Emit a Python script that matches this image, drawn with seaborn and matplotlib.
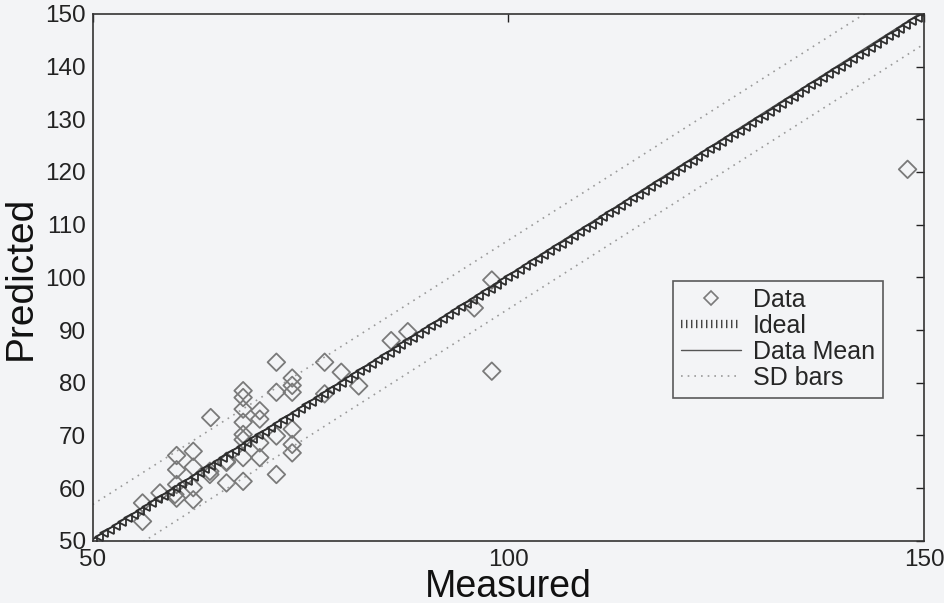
import numpy as np
import pandas as pd
import matplotlib
matplotlib.use("Agg")
import matplotlib.pyplot as plt
from matplotlib.lines import Line2D
import seaborn as sns

# measured vs predicted values
measured = [56.0, 56.0, 58.1, 59.9, 60.1, 60.1, 60.1, 60.1, 62.1, 62.1, 62.1,
            62.1, 64.1, 64.2, 64.1, 66.1, 66.1, 66.1, 68.1, 68.1, 68.1, 68.1,
            68.1, 68.1, 68.1, 68.1, 70.1, 70.1, 70.1, 70.1, 72.1, 72.1, 72.1,
            72.1, 74.0, 74.0, 74.0, 74.0, 74.0, 74.0, 77.9, 77.9, 79.9, 82.0,
            85.9, 87.9, 95.9, 98.0, 98.0, 148.0]
predicted = [57.2, 53.7, 59.1, 58.8, 66.2, 63.5, 60.7, 58.1, 67.0, 60.1, 57.8,
             64.0, 63.2, 73.4, 62.6, 65.1, 64.9, 61.0, 78.5, 77.2, 75.0, 72.5,
             70.2, 69.2, 65.8, 61.3, 74.7, 73.1, 68.6, 65.8, 83.9, 78.2, 69.9,
             62.6, 80.9, 79.5, 78.2, 71.2, 68.3, 66.7, 83.9, 77.9, 82.0, 79.4,
             88.0, 89.7, 94.2, 99.5, 82.2, 120.5]

# reference lines
ideal_x = np.linspace(50, 150, 141)
mean_x = [50, 150]
mean_y = [50.3, 150.6]
sd_upper_y = [56.9, 157.2]
sd_lower_y = [43.7, 144.3]

legend_labels = ["Data", "Ideal", "Data Mean", "SD bars"]

bg = "#f3f4f6"
sns.set_theme(style="white")
plt.rcParams["font.family"] = ["Liberation Sans", "DejaVu Sans"]

fig = plt.figure(figsize=(9.45, 6.03), dpi=100, facecolor=bg)
ax = fig.add_axes([0.098, 0.103, 0.880, 0.874], facecolor=bg)

df = pd.DataFrame({"Measured": measured, "Predicted": predicted})
ideal_df = pd.DataFrame({"x": ideal_x, "y": ideal_x})

sns.lineplot(x=mean_x, y=sd_upper_y, ax=ax, color="#9a9a9a",
             linestyle=(0, (1, 3)), linewidth=1.2)
sns.lineplot(x=mean_x, y=sd_lower_y, ax=ax, color="#9a9a9a",
             linestyle=(0, (1, 3)), linewidth=1.2)
sns.lineplot(x=mean_x, y=mean_y, ax=ax, color="#555555", linewidth=1.0)
ax.plot(ideal_df["x"], ideal_df["y"], linestyle="none", marker="<",
        markersize=6, markeredgewidth=1.3, markerfacecolor="none",
        color="#2e2e2e")
sns.scatterplot(data=df, x="Measured", y="Predicted", ax=ax, marker="D",
                s=80, facecolor="none", edgecolor="#7a7a7a", linewidth=1.3)

ax.set_xlim(50, 150)
ax.set_ylim(50, 150)
ax.set_xticks([50, 100, 150])
ax.set_yticks(range(50, 151, 10))
ax.tick_params(direction="in", length=6, width=1, labelsize=17.5,
               top=True, right=True, colors="#222222")
ax.tick_params(axis="x", pad=5.5)
ax.tick_params(axis="y", pad=5)
for sp in ax.spines.values():
    sp.set_color("#333333")
    sp.set_linewidth(1.2)
ax.set_xlabel("Measured", fontsize=27, color="#111111")
ax.set_ylabel("Predicted", fontsize=28, color="#111111")
ax.xaxis.set_label_coords(0.5, -0.053)
ax.yaxis.set_label_coords(-0.065, 0.5)

handles = [
    Line2D([], [], linestyle="none", marker="D", markersize=7,
           markerfacecolor="none", markeredgecolor="#7a7a7a", markeredgewidth=1.2),
    Line2D([], [], linestyle=(0, (0.17, 0.43)), linewidth=6, color="#444444"),
    Line2D([], [], color="#555555", linewidth=1.0),
    Line2D([], [], color="#9a9a9a", linestyle=(0, (1, 3)), linewidth=1.2),
]
leg = ax.legend(handles, legend_labels, loc="upper left",
                bbox_to_anchor=(0.698, 0.494), borderaxespad=0, fontsize=18,
                frameon=True, fancybox=False, edgecolor="#333333",
                facecolor=bg, handlelength=2.4, handletextpad=0.5,
                labelspacing=0.08, borderpad=0.3)
leg.get_frame().set_linewidth(1.2)

fig.savefig("out.png", dpi=100, facecolor=bg)
